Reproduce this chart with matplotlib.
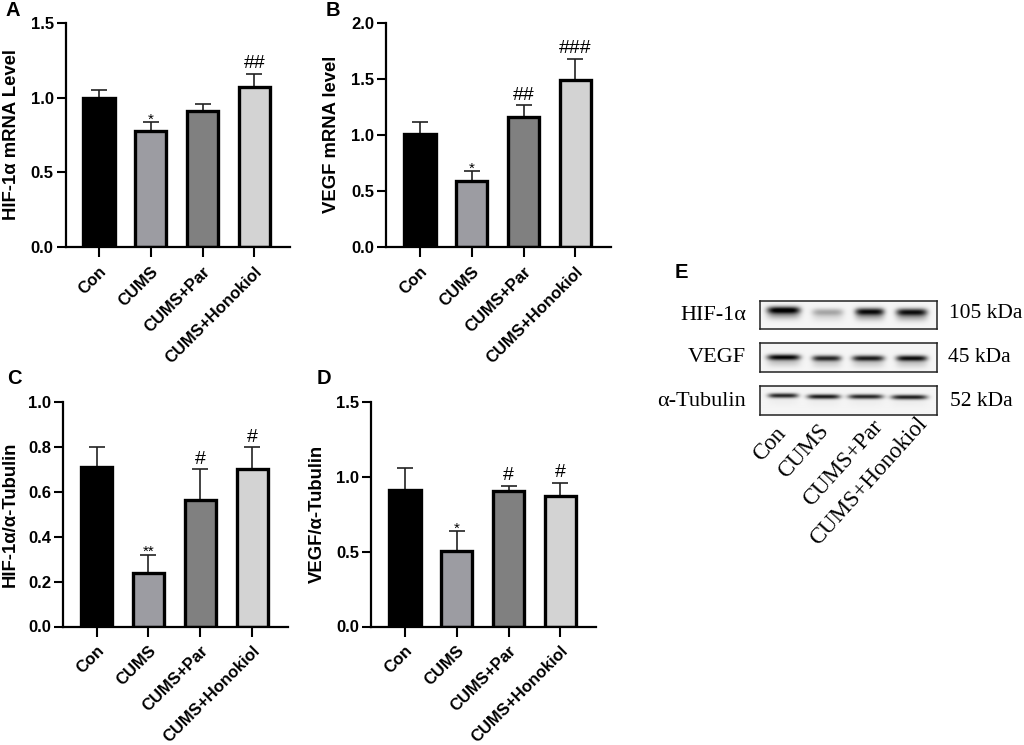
import numpy as np
import matplotlib
matplotlib.use("Agg")
import matplotlib.pyplot as plt

W, H = 1024, 745
SANS = "Liberation Sans"
SERIF = "Liberation Serif"

groups = ["Con", "CUMS", "CUMS+Par", "CUMS+Honokiol"]
bar_colors = ["#000000", "#9c9ca2", "#808080", "#d3d3d3"]

# bar values, upper error, significance marks
hif_mrna = [0.995, 0.775, 0.91, 1.07]
hif_mrna_err = [0.055, 0.06, 0.05, 0.09]
hif_mrna_marks = ["", "*", "", "##"]

vegf_mrna = [1.01, 0.585, 1.165, 1.495]
vegf_mrna_err = [0.105, 0.09, 0.10, 0.185]
vegf_mrna_marks = ["", "*", "##", "###"]

hif_ratio = [0.71, 0.24, 0.565, 0.70]
hif_ratio_err = [0.09, 0.08, 0.135, 0.10]
hif_ratio_marks = ["", "**", "#", "#"]

vegf_ratio = [0.915, 0.505, 0.905, 0.87]
vegf_ratio_err = [0.145, 0.13, 0.035, 0.09]
vegf_ratio_marks = ["", "*", "#", "#"]

# blot band darkness per lane
hif_bands = [0.98, 0.30, 0.90, 0.88]
vegf_bands = [0.95, 0.82, 0.86, 0.92]
tub_bands = [0.85, 0.90, 0.85, 0.88]

fig = plt.figure(figsize=(W / 100, H / 100), dpi=100)


def px_axes(left, top, right, bottom):
    return fig.add_axes([left / W, 1 - bottom / H, (right - left) / W, (bottom - top) / H])


def bar_panel(box, first_center, ymax, yticks, values, errs, marks, ylabel, ylabel_pos):
    left, top, right, bottom = box
    ax = px_axes(left, top, right, bottom)
    x = np.arange(4)
    step = 51.8
    ax.errorbar(x, values, yerr=[np.zeros(4), errs], fmt="none", ecolor="#222222",
                elinewidth=1.2, capsize=6, capthick=1.2, zorder=1)
    ax.bar(x, values, width=0.6, color=bar_colors, edgecolor="black", linewidth=2.4, zorder=2)
    ax.set_xlim((left - first_center) / step, (right - first_center) / step)
    ax.set_ylim(0, ymax)
    ax.set_yticks(yticks)
    ax.set_yticklabels(["%.1f" % t for t in yticks], fontfamily=SANS, fontweight="bold", fontsize=12)
    ax.set_xticks(x)
    ax.set_xticklabels(groups, rotation=45, ha="right", va="top", rotation_mode="anchor",
                       fontfamily=SANS, fontweight="bold", fontsize=12)
    ax.tick_params(axis="y", length=6.5, width=1.5, pad=2)
    ax.tick_params(axis="x", length=7, width=1.5, pad=5)
    for s in ["top", "right"]:
        ax.spines[s].set_visible(False)
    for s in ["left", "bottom"]:
        ax.spines[s].set_linewidth(1.6)
    for i, m in enumerate(marks):
        if not m:
            continue
        y = values[i] + errs[i]
        if m.startswith("*"):
            ax.annotate(m, (i, y), xytext=(0, -3), textcoords="offset points", ha="center",
                        va="bottom", fontfamily=SANS, fontsize=11)
        else:
            ax.annotate(m, (i, y), xytext=(0, 1), textcoords="offset points", ha="center",
                        va="bottom", fontfamily=SANS, fontsize=14)
    fig.text(ylabel_pos[0] / W, 1 - ylabel_pos[1] / H, ylabel, rotation=90, ha="center", va="center",
             fontfamily=SANS, fontweight="bold", fontsize=13.3)
    return ax


bar_panel((65.5, 23, 290, 247), 99, 1.5, [0, 0.5, 1.0, 1.5],
          hif_mrna, hif_mrna_err, hif_mrna_marks, "HIF-1α mRNA Level", (12, 135))
bar_panel((386, 23, 611, 247), 420, 2.0, [0, 0.5, 1.0, 1.5, 2.0],
          vegf_mrna, vegf_mrna_err, vegf_mrna_marks, "VEGF mRNA level", (332, 134))
bar_panel((62.7, 402, 288, 626.5), 96.7, 1.0, [0, 0.2, 0.4, 0.6, 0.8, 1.0],
          hif_ratio, hif_ratio_err, hif_ratio_marks, "HIF-1α/α-Tubulin", (10, 514))
bar_panel((371, 402, 596, 626.5), 405, 1.5, [0, 0.5, 1.0, 1.5],
          vegf_ratio, vegf_ratio_err, vegf_ratio_marks, "VEGF/α-Tubulin", (317, 514))

for letter, px, py in [("A", 13, 11), ("B", 333, 11), ("C", 14, 379), ("D", 324, 378), ("E", 681, 272)]:
    fig.text(px / W, 1 - py / H, letter, ha="center", va="center",
             fontfamily=SANS, fontweight="bold", fontsize=14.5)


# western blot strips drawn as soft bands on a pale background
def blot(box, strengths, lanes, band_y, thick, smear):
    left, top, right, bottom = box
    ax = px_axes(left, top, right, bottom)
    xs = np.arange(left, right, 0.5)
    ys = np.arange(top, bottom, 0.5)
    gx, gy = np.meshgrid(xs, ys)
    dark = np.zeros_like(gx)
    for s, (x0, x1), yc in zip(strengths, lanes, band_y):
        cx, half = (x0 + x1) / 2, (x1 - x0) / 2
        across = np.exp(-np.abs((gx - cx) / half) ** 5)
        dark += s * across * np.exp(-((gy - yc) / thick) ** 2)
        dark += s * smear * across * np.exp(-((gy - yc - 5) / 4.5) ** 2)
    img = 0.96 - np.clip(dark, 0, 1) * 0.96
    ax.imshow(img, cmap="gray", vmin=0, vmax=1, aspect="auto", interpolation="bilinear")
    ax.set_xticks([])
    ax.set_yticks([])
    for s in ax.spines.values():
        s.set_linewidth(1.1)
        s.set_color("#222222")


blot((760, 300.7, 936.7, 329.3), hif_bands,
     [(767, 800), (812, 843), (855, 884), (896, 927)], [310.5, 312.5, 312, 312.5], 3.6, 0.3)
blot((760, 343, 936.7, 372), vegf_bands,
     [(767, 800), (812, 841), (852, 884), (896, 927)], [357, 358, 358, 358], 2.9, 0.18)
blot((760, 386, 936.7, 415), tub_bands,
     [(768, 798), (807, 840), (848, 883), (891, 927)], [396, 397, 397, 397.5], 2.3, 0.03)

for name, py in [("HIF-1α", 316), ("VEGF", 358), ("α-Tubulin", 402)]:
    fig.text(746 / W, 1 - py / H, name, ha="right", va="center", fontfamily=SERIF, fontsize=16)
for kda, px, py in [("105 kDa", 949, 313), ("45 kDa", 948, 358), ("52 kDa", 950, 402)]:
    fig.text(px / W, 1 - py / H, kda, ha="left", va="center", fontfamily=SERIF, fontsize=15.5)
for g, px, py in zip(groups, [775, 817, 872, 916], [423, 420, 416, 413]):
    fig.text(px / W, 1 - py / H, g, rotation=48, ha="right", va="top", rotation_mode="anchor",
             fontfamily=SERIF, fontsize=16.5)

fig.savefig("out.png", dpi=100)
